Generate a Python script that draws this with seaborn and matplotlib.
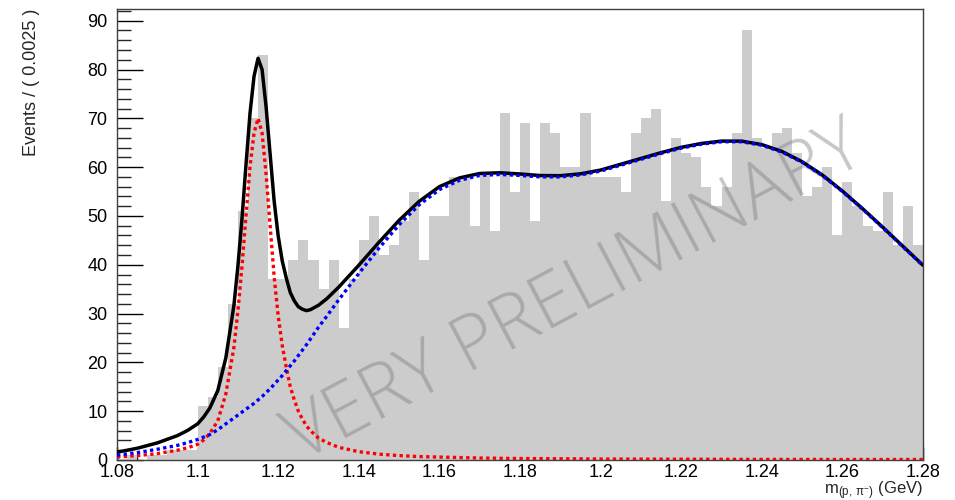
import numpy as np
import pandas as pd
import matplotlib
matplotlib.use("Agg")
import matplotlib.pyplot as plt
from matplotlib.ticker import FixedLocator, MultipleLocator
import seaborn as sns

# ---- histogram: 80 bins of 2.5 MeV between 1.08 and 1.28 GeV ----
x_low = 1.08
bin_width = 0.0025
counts = [
    0, 1, 0, 1, 1, 2, 2, 2, 11, 13,
    19, 32, 51, 70, 83, 37, 37, 41, 45, 41,
    35, 41, 27, 37, 45, 50, 42, 44, 49, 55,
    41, 50, 50, 58, 58, 48, 59, 47, 71, 55,
    69, 49, 69, 67, 60, 60, 71, 58, 58, 58,
    55, 67, 70, 72, 53, 66, 63, 62, 56, 52,
    56, 67, 88, 66, 64, 67, 68, 63, 54, 56,
    60, 46, 57, 52, 48, 47, 55, 44, 52, 44,
]

# ---- fit components (events per bin) ----
fit_x = [
    1.080, 1.085, 1.090, 1.095, 1.0975, 1.100, 1.1015, 1.103, 1.105, 1.107,
    1.109, 1.110, 1.111, 1.112, 1.113, 1.114, 1.115, 1.116, 1.117, 1.118,
    1.119, 1.120, 1.121, 1.122, 1.123, 1.124, 1.125, 1.126, 1.127, 1.128,
    1.130, 1.132, 1.135, 1.140, 1.145, 1.150, 1.155, 1.160, 1.165, 1.170,
    1.175, 1.180, 1.185, 1.190, 1.195, 1.200, 1.205, 1.210, 1.215, 1.220,
    1.225, 1.230, 1.235, 1.240, 1.245, 1.250, 1.255, 1.260, 1.265, 1.270,
    1.275, 1.280,
]
sig_y = [
    0.6, 0.9, 1.3, 2.0, 2.5, 3.2, 4.1, 5.4, 8.0, 13.5,
    23.0, 30.5, 39.5, 50.0, 60.0, 67.0, 70.0, 67.0, 58.5, 48.0,
    37.5, 29.5, 23.5, 19.0, 15.0, 12.3, 10.0, 8.4, 7.0, 6.0,
    4.5, 3.6, 2.6, 1.7, 1.2, 0.9, 0.7, 0.6, 0.5, 0.4,
    0.35, 0.3, 0.28, 0.25, 0.23, 0.2, 0.19, 0.18, 0.17, 0.16,
    0.15, 0.14, 0.13, 0.12, 0.12, 0.11, 0.11, 0.1, 0.1, 0.1,
    0.1, 0.1,
]
bkg_y = [
    1.0, 1.5, 2.2, 3.0, 3.55, 4.2, 4.7, 5.2, 6.2, 7.4,
    8.6, 9.2, 9.8, 10.4, 11.0, 11.6, 12.3, 13.0, 13.8, 14.6,
    15.5, 16.4, 17.3, 18.3, 19.3, 20.3, 21.4, 22.5, 23.6, 24.8,
    27.2, 29.4, 32.8, 38.2, 43.4, 48.2, 52.3, 55.4, 57.3, 58.3,
    58.5, 58.3, 58.0, 58.0, 58.4, 59.2, 60.4, 61.6, 62.8, 63.9,
    64.7, 65.2, 65.2, 64.5, 63.1, 61.0, 58.3, 55.0, 51.4, 47.6,
    43.7, 39.8,
]

x_tick_labels = ["1.08", "1.1", "1.12", "1.14", "1.16", "1.18",
                 "1.2", "1.22", "1.24", "1.26", "1.28"]
y_tick_values = [0, 10, 20, 30, 40, 50, 60, 70, 80, 90]

# ---- derived tables ----
n_bins = len(counts)
edges = [x_low + bin_width * i for i in range(n_bins + 1)]
hist_df = pd.DataFrame({"mass": [e + bin_width / 2 for e in edges[:-1]],
                        "events": counts})
fit_df = pd.DataFrame({"mass": fit_x, "signal": sig_y, "background": bkg_y})
fit_df["total"] = fit_df["signal"] + fit_df["background"]

# ---- style ----
sns.set_theme(style="ticks")
plt.rcParams["font.family"] = ["Liberation Sans", "DejaVu Sans"]
plt.rcParams["mathtext.fontset"] = "custom"
plt.rcParams["mathtext.rm"] = "Liberation Sans"
plt.rcParams["mathtext.it"] = "Liberation Sans"

fig = plt.figure(figsize=(9.55, 5.0), dpi=100)
ax = fig.add_axes([117 / 955, 40 / 500, 806 / 955, 451 / 500])

sns.histplot(data=hist_df, x="mass", weights="events", bins=edges,
             stat="count", element="bars", color="#cccccc", alpha=1.0,
             linewidth=0, ax=ax, zorder=1)

# watermark sits above the histogram but under the fit curves
ax.text(576 / 955, 1 - 294 / 500, "VERY PRELIMINARY", fontsize=54,
        family=["Open Sans", "Liberation Sans", "DejaVu Sans"],
        fontweight="light", color="#797979", alpha=0.42, rotation=28,
        rotation_mode="anchor", ha="center", va="center",
        transform=fig.transFigure, zorder=2)

dots = (0, (1, 1))
sns.lineplot(data=fit_df, x="mass", y="total", color="black", lw=2.5,
             estimator=None, sort=False, ax=ax, zorder=3)
sns.lineplot(data=fit_df, x="mass", y="signal", color="#ff0000", lw=2.4,
             linestyle=dots, estimator=None, sort=False, ax=ax, zorder=4)
sns.lineplot(data=fit_df, x="mass", y="background", color="#0000ff", lw=2.4,
             linestyle=dots, estimator=None, sort=False, ax=ax, zorder=5)

ax.set_xlim(edges[0], edges[-1])
ax.set_ylim(0, max(counts) * 1.05)

ax.xaxis.set_major_locator(FixedLocator([float(s) for s in x_tick_labels]))
ax.set_xticklabels(x_tick_labels)
ax.xaxis.set_minor_locator(MultipleLocator(0.005))
ax.yaxis.set_major_locator(FixedLocator(y_tick_values))
ax.set_yticklabels([str(v) for v in y_tick_values])
ax.yaxis.set_minor_locator(MultipleLocator(2))

ax.tick_params(axis="y", which="major", direction="in", length=19, width=1,
               pad=7, labelsize=13, colors="black")
ax.tick_params(axis="y", which="minor", direction="in", length=10, width=1)
ax.tick_params(axis="x", which="major", direction="in", length=9.5, width=1,
               pad=3, labelsize=13, colors="black")
ax.tick_params(axis="x", which="minor", direction="in", length=4.5, width=1)
ax.tick_params(top=False, right=False, which="both")

for side in ["left", "right", "top", "bottom"]:
    ax.spines[side].set_visible(True)
    ax.spines[side].set_color("#404040")
    ax.spines[side].set_linewidth(1.0)

ax.set_ylabel("Events / ( 0.0025 )", fontsize=13, loc="top")
ax.yaxis.set_label_coords(-0.096, 1.0)
ax.set_xlabel(r"m$_{\mathrm{(p,}\,\pi^{-}\mathrm{)}}$ (GeV)", fontsize=12,
              loc="right")
ax.xaxis.set_label_coords(1.0, -0.0425)

fig.savefig("out.png", dpi=100, facecolor="white")
